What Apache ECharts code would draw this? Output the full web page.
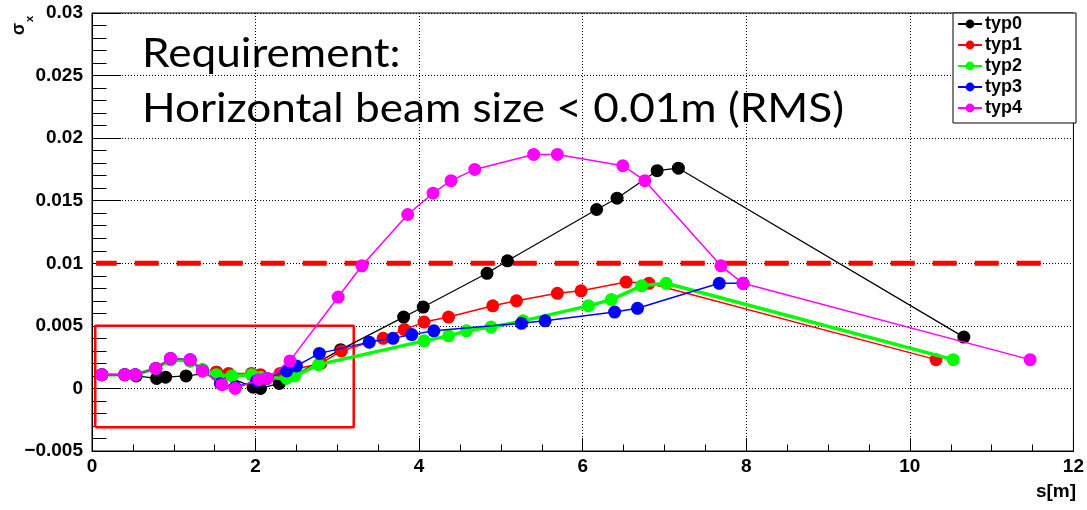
<!DOCTYPE html>
<html>
<head>
<meta charset="utf-8">
<script src="https://cdn.jsdelivr.net/npm/echarts@6/dist/echarts.min.js"></script>
<style>
html,body{margin:0;padding:0;background:#fff;}
#c{width:1087px;height:510px;}
</style>
</head>
<body>
<div id="c"></div>
<script>
// ---- data (s in m, sigma_x in m) ----
const typ0_s = [0.12, 0.40, 0.54, 0.79, 0.90, 1.15, 1.52, 1.97, 2.06, 2.29, 3.04, 3.81, 4.05, 4.83, 5.08, 6.17, 6.42, 6.91, 7.17, 10.66];
const typ0_v = [0.0011, 0.0011, 0.0010, 0.0008, 0.0009, 0.0010, 0.0013, 0.0001, 0.0000, 0.0004, 0.0031, 0.0057, 0.0065, 0.0092, 0.0102, 0.0143, 0.0152, 0.0174, 0.0176, 0.0041];

const typ1_s = [0.12, 0.40, 0.53, 0.78, 0.96, 1.20, 1.35, 1.52, 1.67, 1.95, 2.06, 2.30, 2.45, 2.80, 3.05, 3.56, 3.82, 4.06, 4.36, 4.90, 5.19, 5.69, 5.98, 6.53, 6.81, 10.32];
const typ1_v = [0.0011, 0.0011, 0.0011, 0.0016, 0.0023, 0.0022, 0.0015, 0.0013, 0.0012, 0.0012, 0.0011, 0.0012, 0.0015, 0.0020, 0.0030, 0.0040, 0.0047, 0.0053, 0.0057, 0.0066, 0.0070, 0.0076, 0.0078, 0.0085, 0.0084, 0.0023];

const typ2_s = [0.12, 0.40, 0.53, 0.78, 0.96, 1.20, 1.35, 1.52, 1.71, 1.95, 2.06, 2.38, 2.48, 2.77, 4.06, 4.36, 4.58, 4.88, 5.27, 6.07, 6.35, 6.72, 7.02, 10.53];
const typ2_v = [0.0011, 0.0011, 0.0011, 0.0016, 0.0023, 0.0022, 0.0015, 0.0011, 0.0010, 0.0011, 0.0009, 0.0008, 0.0010, 0.0019, 0.0038, 0.0042, 0.0046, 0.0049, 0.0054, 0.0066, 0.0071, 0.0082, 0.0084, 0.0023];

const typ3_s = [0.12, 0.40, 0.53, 0.78, 0.96, 1.20, 1.35, 1.57, 1.75, 2.01, 2.14, 2.38, 2.50, 2.78, 3.39, 3.68, 3.91, 4.18, 5.25, 5.54, 6.39, 6.67, 7.67, 7.96];
const typ3_v = [0.0011, 0.0011, 0.0011, 0.0016, 0.0024, 0.0023, 0.0014, 0.0004, 0.0001, 0.0006, 0.0008, 0.0014, 0.0018, 0.0028, 0.0037, 0.0040, 0.0043, 0.0046, 0.0052, 0.0054, 0.0061, 0.0064, 0.0084, 0.0084];

const typ4_s = [0.12, 0.40, 0.53, 0.78, 0.96, 1.20, 1.35, 1.59, 1.75, 2.04, 2.14, 2.42, 3.01, 3.30, 3.86, 4.17, 4.39, 4.68, 5.40, 5.69, 6.49, 6.76, 7.69, 7.96, 11.47];
const typ4_v = [0.0011, 0.0011, 0.0011, 0.0016, 0.0024, 0.0023, 0.0014, 0.0003, 0.0000, 0.0007, 0.0008, 0.0022, 0.0073, 0.0098, 0.0139, 0.0156, 0.0166, 0.0175, 0.0187, 0.0187, 0.0178, 0.0166, 0.0098, 0.0084, 0.0023];

const seriesNames = ['typ0', 'typ1', 'typ2', 'typ3', 'typ4'];

// requirement level and highlighted region
const reqLevel = 0.01;
const reqLineS = [11.6, 0.05];
const boxS = [0.04, 3.2];
const boxSigma = [-0.0031, 0.005];

// axis ranges / ticks
const xMin = 0, xMax = 12, xStep = 2;
const yMin = -0.005, yMax = 0.03, yStep = 0.005;

const titleLine1 = 'Requirement:';
const titleLine2 = 'Horizontal beam size < 0.01m (RMS)';
const xTitle = 's[m]';

// ---- chart ----
const zip = (a, b) => a.map((v, i) => [v, b[i]]);
const colors = ['#000000', '#ff0000', '#00ff00', '#0000ff', '#ff00ff'];
const widths = [1.2, 1.5, 3.5, 1.5, 1.5];
const allS = [typ0_s, typ1_s, typ2_s, typ3_s, typ4_s];
const allV = [typ0_v, typ1_v, typ2_v, typ3_v, typ4_v];

const chart = echarts.init(document.getElementById('c'), null, {renderer: 'canvas'});

// fit requirement text width
const txtFont = 'Lato';
const txtSize = 41;
const cv = document.createElement('canvas').getContext('2d');
cv.font = txtSize + 'px ' + txtFont;
const targetW = 702;
const sx = targetW / cv.measureText(titleLine2).width;

const dataSeries = seriesNames.map((n, i) => ({
  name: n,
  type: 'line',
  data: zip(allS[i], allV[i]),
  symbol: 'circle',
  symbolSize: 13,
  showAllSymbol: true,
  color: colors[i],
  lineStyle: {color: colors[i], width: widths[i]},
  itemStyle: {color: colors[i]},
  emphasis: {disabled: true},
  z: 3 + i
}));

const option = {
  animation: false,
  backgroundColor: '#ffffff',
  grid: {left: 92, top: 13, right: 11, bottom: 59, show: true, borderColor: '#000', borderWidth: 1, containLabel: false},
  xAxis: {
    type: 'value', min: xMin, max: xMax, interval: xStep,
    axisLine: {onZero: false, lineStyle: {color: '#000', width: 1}},
    axisTick: {inside: true, length: 13, lineStyle: {color: '#000', width: 1}},
    minorTick: {show: true, splitNumber: 4, length: 6.5, lineStyle: {color: '#000', width: 1}},
    splitLine: {show: true, lineStyle: {color: '#000', width: 1, type: [1, 2]}},
    axisLabel: {color: '#000', fontFamily: 'Liberation Sans', fontWeight: 'bold', fontSize: 19, margin: 6}
  },
  yAxis: {
    type: 'value', min: yMin, max: yMax, interval: yStep,
    axisLine: {onZero: false, lineStyle: {color: '#000', width: 1}},
    axisTick: {inside: true, length: 29, lineStyle: {color: '#000', width: 1}},
    minorTick: {show: true, splitNumber: 5, length: 14.5, lineStyle: {color: '#000', width: 1}},
    splitLine: {show: true, lineStyle: {color: '#000', width: 1, type: [1, 2]}},
    axisLabel: {
      color: '#000', fontFamily: 'Liberation Sans', fontWeight: 'bold', fontSize: 19, margin: 9,
      formatter: v => (Math.abs(v) < 1e-12 ? '0' : String(+v.toFixed(3))).replace('-', '\u2212')
    }
  },
  legend: {
    data: seriesNames,
    orient: 'vertical', left: 957, top: 15,
    itemWidth: 24, itemHeight: 11, itemGap: 3,
    padding: 0, z: 20,
    selectedMode: false,
    textStyle: {color: '#000', fontFamily: 'Liberation Sans', fontWeight: 'bold', fontSize: 18, lineHeight: 18, padding: [0, 0, 0, -2]}
  },
  graphic: [
    {type: 'rect', z: 10, shape: {x: 953, y: 13, width: 123, height: 110}, style: {fill: '#fff', stroke: '#000', lineWidth: 1}},
    {type: 'text', z: 10, x: 142, y: 54, scaleX: sx, style: {text: titleLine1, font: txtSize + 'px ' + txtFont, fill: '#000', align: 'left', verticalAlign: 'middle'}},
    {type: 'text', z: 10, x: 142, y: 109, scaleX: sx, style: {text: titleLine2, font: txtSize + 'px ' + txtFont, fill: '#000', align: 'left', verticalAlign: 'middle'}},
    {type: 'text', z: 10, x: 1076, y: 492, style: {text: xTitle, font: 'bold 19px "Liberation Sans"', fill: '#000', align: 'right', verticalAlign: 'middle'}},
    {type: 'text', z: 10, x: 19, y: 23, rotation: Math.PI / 2, style: {text: '\u03c3', font: 'bold 18px "Liberation Sans"', fill: '#000', align: 'right', verticalAlign: 'middle'}},
    {type: 'text', z: 10, x: 30, y: 16, rotation: Math.PI / 2, style: {text: 'x', font: 'bold 11px "Liberation Sans"', fill: '#000', align: 'right', verticalAlign: 'middle'}}
  ],
  series: [
    {
      name: 'req', type: 'line', data: reqLineS.map(s => [s, reqLevel]), symbol: 'none', silent: true, z: 1,
      lineStyle: {color: '#ff0000', width: 5, type: [24, 18], dashOffset: 0}
    },
    {
      name: 'box', type: 'line', symbol: 'none', silent: true, z: 1,
      data: [[boxS[0], boxSigma[0]], [boxS[1], boxSigma[0]], [boxS[1], boxSigma[1]], [boxS[0], boxSigma[1]], [boxS[0], boxSigma[0]]],
      lineStyle: {color: '#ff0000', width: 2.5}
    }
  ].concat(dataSeries)
};
chart.setOption(option);
</script>
</body>
</html>
